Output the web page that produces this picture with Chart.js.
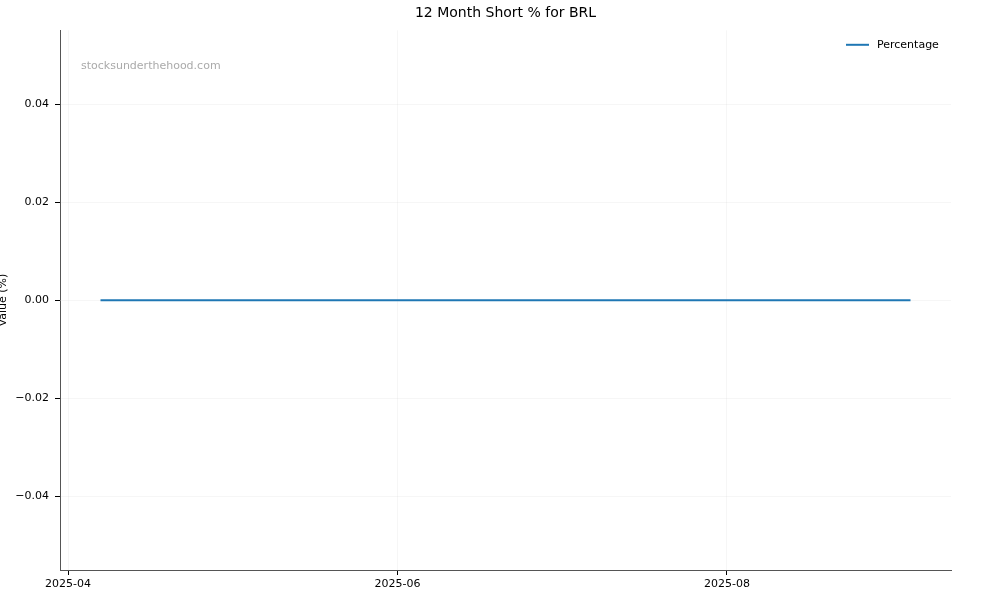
<!DOCTYPE html>
<html>
<head>
<meta charset="UTF-8">
<title>12 Month Short % for BRL</title>
<script src="https://cdn.jsdelivr.net/npm/chart.js@4.4.1/dist/chart.umd.min.js"></script>
<style>
    html, body {
        margin: 0;
        padding: 0;
        background: #fff;
    }
    #wrap {
        width: 1000px;
        height: 600px;
    }
</style>
</head>
<body>
<div id="wrap"><canvas id="chart"></canvas></div>
<script>
// data
const dates = ['2025-04-07', '2025-04-15', '2025-04-30', '2025-05-15', '2025-05-30',
    '2025-06-13', '2025-06-30', '2025-07-15', '2025-07-31', '2025-08-15', '2025-08-29', '2025-09-04'];
const percentage = [0, 0, 0, 0, 0, 0, 0, 0, 0, 0, 0, 0];
const xTickDates = ['2025-04-01', '2025-06-01', '2025-08-01'];
const xTickLabels = ['2025-04', '2025-06', '2025-08'];
const yTicks = [-0.04, -0.02, 0.00, 0.02, 0.04];

const DAY = 86400000;
const toDay = s => Date.parse(s + 'T00:00:00Z') / DAY;

const xs = dates.map(toDay);
const span = xs[xs.length - 1] - xs[0];
const xMin = xs[0] - span * 0.05;
const xMax = xs[xs.length - 1] + span * 0.05;

const points = xs.map((x, i) => ({ x: x, y: percentage[i] }));

const font = "'DejaVu Sans', sans-serif";
const lineColor = '#1f77b4';

// watermark and in-plot legend (matplotlib style, upper right)
const overlay = {
    id: 'overlay',
    afterDraw(chart) {
        const ctx = chart.ctx;
        const a = chart.chartArea;
        ctx.save();
        ctx.font = '11px ' + font;
        ctx.textBaseline = 'middle';

        ctx.fillStyle = '#aaaaaa';
        ctx.fillText('stocksunderthehood.com', a.left + 21, a.top + 36);

        const ds = chart.data.datasets[0];
        const ly = a.top + 14.5;
        ctx.strokeStyle = ds.borderColor;
        ctx.lineWidth = 2;
        ctx.beginPath();
        ctx.moveTo(a.right - 105, ly);
        ctx.lineTo(a.right - 82, ly);
        ctx.stroke();
        ctx.fillStyle = '#000';
        ctx.fillText(ds.label, a.right - 74, ly);
        ctx.restore();
    }
};

new Chart(document.getElementById('chart'), {
    type: 'line',
    data: {
        datasets: [{
            label: 'Percentage',
            data: points,
            borderColor: lineColor,
            backgroundColor: lineColor,
            borderWidth: 2,
            pointRadius: 0,
            tension: 0
        }]
    },
    options: {
        responsive: true,
        maintainAspectRatio: false,
        animation: false,
        layout: {
            padding: { left: 0, right: 49, top: 0, bottom: 0 }
        },
        scales: {
            x: {
                type: 'linear',
                min: xMin,
                max: xMax,
                afterBuildTicks: s => { s.ticks = xTickDates.map(d => ({ value: toDay(d) })); },
                afterFit: s => { s.height = 30; },
                ticks: {
                    font: { family: font, size: 11 },
                    color: '#000',
                    padding: 3,
                    maxRotation: 0,
                    autoSkip: false,
                    callback: (v, i) => xTickLabels[i]
                },
                grid: {
                    color: 'rgba(0,0,0,0.035)',
                    drawTicks: true,
                    tickLength: 5,
                    tickColor: '#000'
                },
                border: { color: '#555', width: 1 }
            },
            y: {
                min: -0.0551,
                max: 0.0551,
                afterBuildTicks: s => { s.ticks = yTicks.map(v => ({ value: v })); },
                afterFit: s => { s.width = 60; },
                title: {
                    display: true,
                    text: 'Value (%)',
                    font: { family: font, size: 11 },
                    color: '#000',
                    padding: { top: -3, bottom: 0 }
                },
                ticks: {
                    font: { family: font, size: 11 },
                    color: '#000',
                    padding: 6,
                    callback: v => v.toFixed(2).replace('-', '\u2212')
                },
                grid: {
                    color: 'rgba(0,0,0,0.035)',
                    drawTicks: true,
                    tickLength: 5,
                    tickColor: '#000'
                },
                border: { color: '#555', width: 1 }
            }
        },
        plugins: {
            title: {
                display: true,
                fullSize: false,
                text: '12 Month Short % for BRL',
                font: { family: font, size: 14, weight: 'normal' },
                color: '#000',
                padding: { top: 5, bottom: 8.5 }
            },
            legend: { display: false },
            tooltip: { enabled: false }
        }
    },
    plugins: [overlay]
});
</script>
</body>
</html>
